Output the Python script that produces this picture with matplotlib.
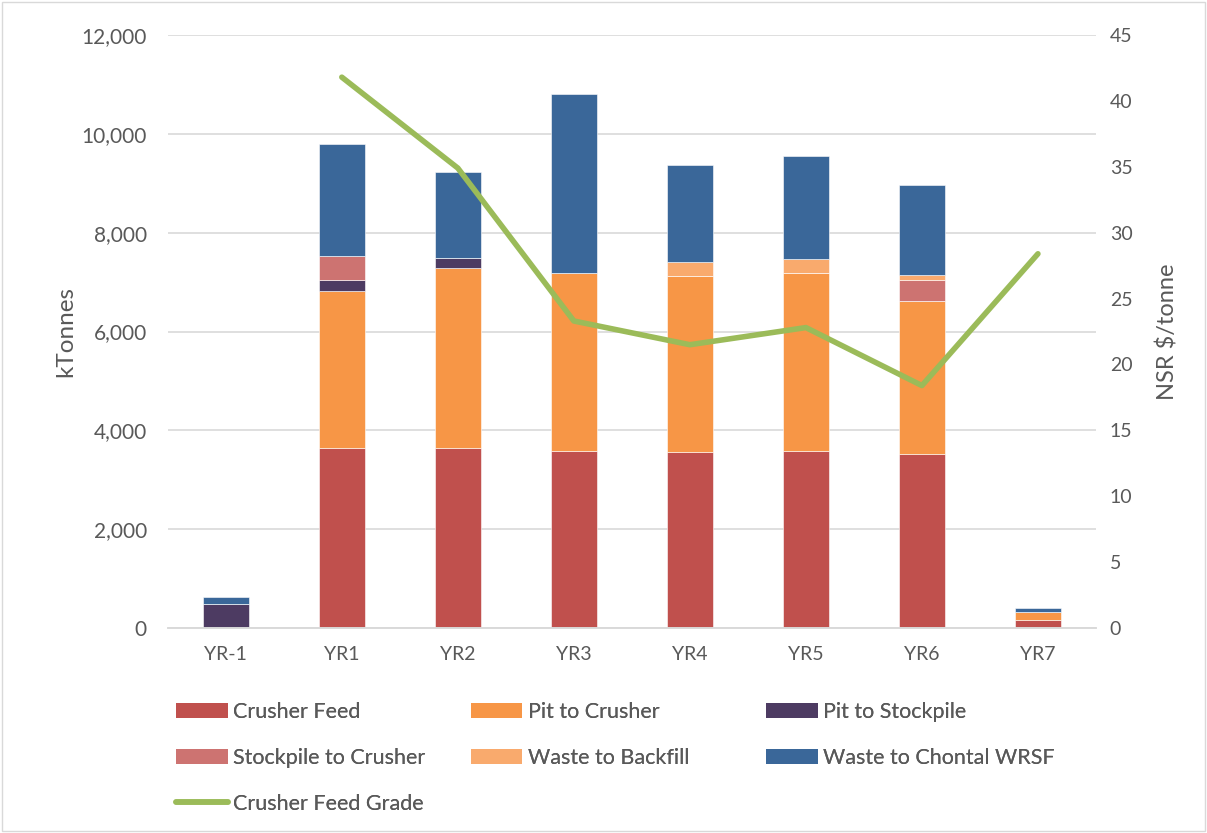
import matplotlib.pyplot as plt
import numpy as np
from matplotlib.patches import Patch
from matplotlib.lines import Line2D

plt.rcParams['font.family'] = ['Lato', 'DejaVu Sans']

years = ['YR-1', 'YR1', 'YR2', 'YR3', 'YR4', 'YR5', 'YR6', 'YR7']
crusher_feed = [0, 3650, 3650, 3580, 3560, 3580, 3520, 160]
pit_to_crusher = [0, 3170, 3640, 3600, 3570, 3610, 3100, 170]
pit_to_stockpile = [490, 220, 190, 0, 0, 0, 0, 0]
stockpile_to_crusher = [0, 490, 0, 0, 0, 0, 430, 0]
waste_to_backfill = [0, 0, 0, 0, 280, 270, 90, 0]
waste_to_chontal = [130, 2270, 1750, 3620, 1960, 2090, 1830, 80]
feed_grade = [np.nan, 41.8, 34.9, 23.3, 21.5, 22.8, 18.4, 28.4]

series = [
    ('Crusher Feed', crusher_feed, '#C0504D'),
    ('Pit to Crusher', pit_to_crusher, '#F79646'),
    ('Pit to Stockpile', pit_to_stockpile, '#4D3B62'),
    ('Stockpile to Crusher', stockpile_to_crusher, '#CD7371'),
    ('Waste to Backfill', waste_to_backfill, '#F9AA6D'),
    ('Waste to Chontal WRSF', waste_to_chontal, '#3A6799'),
]
txt = '#595959'
line_color = '#9BBB59'

fig = plt.figure(figsize=(12.07, 8.33), dpi=100)
ax = fig.add_axes([0.139, 0.246, 0.769, 0.712])
ax2 = ax.twinx()

x = np.arange(len(years))
bottom = np.zeros(len(years))
handles = {}
for name, vals, c in series:
    vals = np.array(vals, dtype=float)
    ax.bar(x, vals, 0.4, bottom=bottom, color=c, edgecolor='white', linewidth=0.4, zorder=2)
    bottom += vals
    handles[name] = Patch(facecolor=c, label=name)

ax2.plot(x, feed_grade, color=line_color, linewidth=4, solid_capstyle='round', zorder=3)
handles['Crusher Feed Grade'] = Line2D([0], [0], color=line_color, linewidth=4,
                                       solid_capstyle='round', label='Crusher Feed Grade')

ax.set_xlim(-0.5, len(years) - 0.5)
ax.set_ylim(0, 12000)
ax.set_yticks(range(0, 12001, 2000))
ax.set_yticklabels(['{:,}'.format(v) for v in range(0, 12001, 2000)])
ax2.set_ylim(0, 45)
ax2.set_yticks(range(0, 46, 5))
ax.set_xticks(x)
ax.set_xticklabels(years)
ax.grid(axis='y', color='#D9D9D9', linewidth=1.2, zorder=0)
ax.set_axisbelow(True)

for a in (ax, ax2):
    for s in ['top', 'left', 'right']:
        a.spines[s].set_visible(False)
    a.spines['bottom'].set_color('#D9D9D9')
    a.spines['bottom'].set_linewidth(1.2)
    a.tick_params(length=0, labelsize=14, colors=txt)
ax.tick_params(axis='y', labelsize=15, pad=15)
ax.tick_params(axis='x', pad=13)
ax2.tick_params(axis='y', pad=10)

ax.set_ylabel('kTonnes', fontsize=17.5, color=txt, labelpad=4)
ax2.set_ylabel('NSR $/tonne', fontsize=17, color=txt, labelpad=17)

columns = [['Crusher Feed', 'Stockpile to Crusher', 'Crusher Feed Grade'],
           ['Pit to Crusher', 'Waste to Backfill'],
           ['Pit to Stockpile', 'Waste to Chontal WRSF']]
col_x = [0.137, 0.381, 0.626]
for cx, names in zip(col_x, columns):
    leg = fig.legend([handles[k] for k in names], names, loc='upper left',
                     bbox_to_anchor=(cx, 0.17), frameon=False, fontsize=15.5,
                     handlelength=2.4, handleheight=0.7, labelspacing=1.2,
                     handletextpad=0.25, borderpad=0, labelcolor=txt)
    fig.add_artist(leg)

fig.patches.append(plt.Rectangle((0.002, 0.002), 0.996, 0.996, transform=fig.transFigure,
                                 fill=False, edgecolor='#D9D9D9', linewidth=1))
fig.savefig('out.png', dpi=100)
